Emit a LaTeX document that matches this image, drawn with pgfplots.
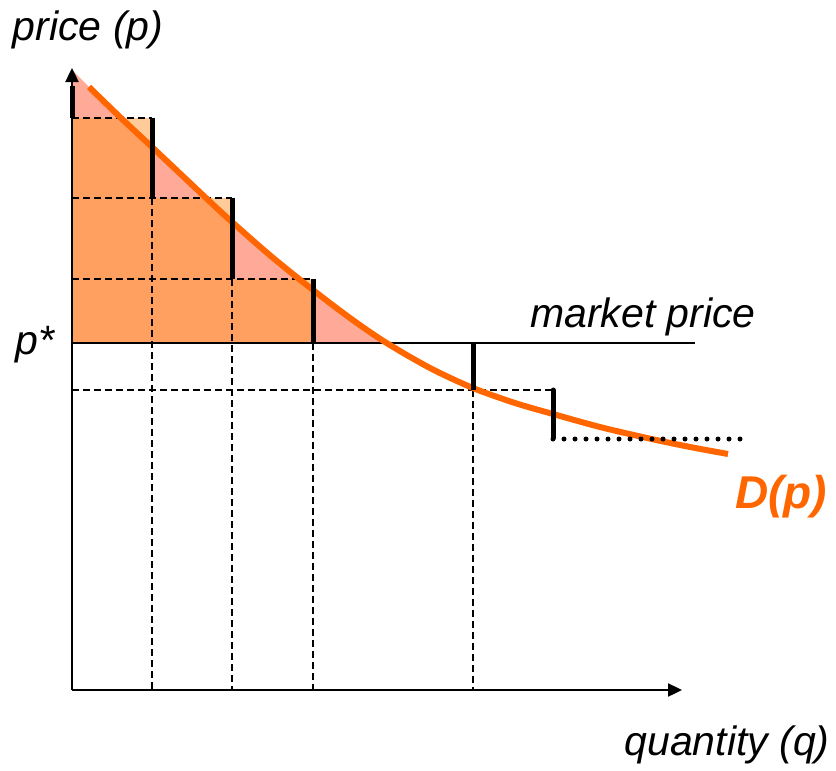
\documentclass[border=0pt]{standalone}
\usepackage{pgfplots}
\pgfplotsset{compat=1.18}
\usepackage{fontspec}
\setmainfont{Liberation Sans}
\usetikzlibrary{arrows.meta}
\definecolor{curveor}{RGB}{255,102,0}
\definecolor{fillor}{RGB}{255,160,96}
\definecolor{fillpink}{RGB}{255,170,152}
\definecolor{fillpeach}{RGB}{255,204,153}
\begin{document}
\begin{tikzpicture}
\useasboundingbox (0,0) rectangle (418pt,385.5pt);
\begin{axis}[
  scale only axis, width=418pt, height=385.5pt,
  xmin=0, xmax=836, ymin=0, ymax=771, y dir=reverse,
  hide axis, clip=false,
]
% consumer surplus area (pink)
\addplot[fill=fillpink, draw=none] coordinates {
 (72,70) (89,87) (121,118) (153,148) (206,198) (232,222) (272,257) (300,280) (313,290) (350,318) (385,343) (72,343)} -- cycle;
% orange step rectangles (below curve)
\addplot[fill=fillor, draw=none] coordinates {(72,343) (72,118) (121,118) (152,147) (152,343)} -- cycle;
\addplot[fill=fillor, draw=none] coordinates {(152,343) (152,198) (206,198) (232,222) (232,343)} -- cycle;
\addplot[fill=fillor, draw=none] coordinates {(232,343) (232,279) (300,279) (313,290) (313,343)} -- cycle;
% peach parts above curve
\addplot[fill=fillpeach, draw=none] coordinates {(121,118) (152,118) (152,147)} -- cycle;
\addplot[fill=fillpeach, draw=none] coordinates {(206,198) (232,198) (232,222)} -- cycle;
\addplot[fill=fillpeach, draw=none] coordinates {(300,279) (313,279) (313,290)} -- cycle;
% dashed guides
\addplot[black, line width=1pt, dash pattern=on 3.5pt off 2pt] coordinates {(72,118) (152,118)};
\addplot[black, line width=1pt, dash pattern=on 3.5pt off 2pt] coordinates {(72,198) (232,198)};
\addplot[black, line width=1pt, dash pattern=on 3.5pt off 2pt] coordinates {(72,279) (313,279)};
\addplot[black, line width=1pt, dash pattern=on 3.5pt off 2pt] coordinates {(72,390) (553,390)};
\addplot[black, line width=1pt, dash pattern=on 3.5pt off 2pt] coordinates {(152,198) (152,690)};
\addplot[black, line width=1pt, dash pattern=on 3.5pt off 2pt] coordinates {(232,279) (232,690)};
\addplot[black, line width=1pt, dash pattern=on 3.5pt off 2pt] coordinates {(313,343) (313,690)};
\addplot[black, line width=1pt, dash pattern=on 3.5pt off 2pt] coordinates {(473,390) (473,690)};
% market price line
\addplot[black, line width=1.1pt] coordinates {(72,343) (695,343)};
% axes
\addplot[black, line width=1.2pt, -{Triangle[length=7pt,width=6.5pt]}] coordinates {(72,690) (72,68)};
\addplot[black, line width=1.2pt, -{Triangle[length=7pt,width=6.5pt]}] coordinates {(72,690) (682,690)};
% demand curve
\addplot[curveor, line width=3pt, smooth] coordinates {
 (89,87) (121,118) (153,148) (206,198) (232,222) (272,257) (313,290) (350,318) (385,342) (430,368) (473,388) (515,403) (553,414) (600,427) (647,438) (690,447) (728,454)};
% dotted
\addplot[black, line width=2.5pt, line cap=round, dash pattern=on 0pt off 5.5pt] coordinates {(553,439) (740,439)};
% thick step bars
\addplot[black, line width=2.5pt] coordinates {(72,86) (72,118)};
\addplot[black, line width=2.5pt] coordinates {(152,118) (152,198)};
\addplot[black, line width=2.5pt] coordinates {(232,198) (232,279)};
\addplot[black, line width=2.5pt] coordinates {(313,279) (313,343)};
\addplot[black, line width=2.5pt] coordinates {(473,343) (473,390)};
\addplot[black, line width=2.5pt, line cap=round] coordinates {(553,390) (553,438)};
% labels
\node[font=\fontsize{20.5}{24}\selectfont\itshape] at (axis cs:88,30) {price (\textit{p})};
\node[font=\fontsize{20.5}{24}\selectfont\itshape] at (axis cs:727,745) {quantity (\textit{q})};
\node[font=\fontsize{20.5}{24}\selectfont\itshape] at (axis cs:643,317) {market price};
\node[font=\fontsize{20.5}{24}\selectfont\itshape] at (axis cs:35,345) {p*};
\node[font=\fontsize{23}{27}\selectfont\bfseries\itshape, text=curveor] at (axis cs:781,497) {D(p)};
\end{axis}
\end{tikzpicture}
\end{document}
